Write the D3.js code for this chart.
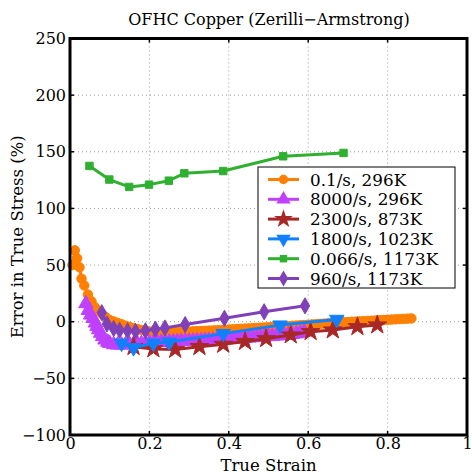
<!DOCTYPE html>
<html>
<head>
<meta charset="utf-8">
<script src="https://cdn.jsdelivr.net/npm/d3@7"></script>
<style>
  body { margin: 0; background: #fff; }
  text { font-family: "DejaVu Serif", "Liberation Serif", serif; fill: #000; }
  .grid line { stroke: #9a9a9a; stroke-dasharray: 1,3; stroke-width: 1; }
</style>
</head>
<body>
<div id="chart"></div>
<script>
// Tick values
const xTicks = [0, 0.2, 0.4, 0.6, 0.8, 1];
const yTicks = [-100, -50, 0, 50, 100, 150, 200, 250];

const labels = ['0.1/s, 296K', '8000/s, 296K', '2300/s, 873K', '1800/s, 1023K', '0.066/s, 1173K', '960/s, 1173K'];

// 0.1/s, 296K  (dense samples)
const s1x = [0.006, 0.012, 0.018, 0.024, 0.029, 0.036, 0.045, 0.054, 0.062, 0.070, 0.080, 0.090,
  0.10, 0.11, 0.12, 0.13, 0.14, 0.15, 0.16, 0.17, 0.18, 0.19, 0.20, 0.21, 0.22, 0.23, 0.24, 0.25, 0.26, 0.27, 0.28, 0.29,
  0.30, 0.31, 0.32, 0.33, 0.34, 0.35, 0.36, 0.37, 0.38, 0.39, 0.40, 0.41, 0.42, 0.43, 0.44, 0.45, 0.46, 0.47, 0.48, 0.49,
  0.50, 0.51, 0.52, 0.53, 0.54, 0.55, 0.56, 0.57, 0.58, 0.59, 0.60, 0.61, 0.62, 0.63, 0.64, 0.65, 0.66, 0.67, 0.68, 0.69,
  0.70, 0.71, 0.72, 0.73, 0.74, 0.75, 0.76, 0.77, 0.78, 0.79, 0.80, 0.81, 0.82, 0.83, 0.84, 0.85, 0.86];
const s1y = [50, 63, 56, 48, 38, 32, 24, 18, 13, 10, 7, 4,
  1.5, 0.2, -1, -2.3, -3.5, -4.6, -5.6, -6.5, -7.3, -8, -8.6, -9, -9.3, -9.4, -9.4, -9.3, -9.2, -9.1, -9, -8.8,
  -8.7, -8.5, -8.4, -8.2, -8.1, -7.9, -7.7, -7.5, -7.3, -7.1, -6.9, -6.7, -6.5, -6.3, -6.1, -5.9, -5.7, -5.5, -5.3, -5.1,
  -4.9, -4.7, -4.5, -4.3, -4.1, -3.9, -3.6, -3.4, -3.1, -2.9, -2.7, -2.4, -2.2, -1.9, -1.7, -1.4, -1.2, -0.9, -0.7, -0.5,
  -0.3, -0.1, 0.1, 0.3, 0.5, 0.7, 0.9, 1.1, 1.3, 1.5, 1.7, 1.9, 2.1, 2.3, 2.5, 2.7, 2.9];

// 8000/s, 296K  (dense samples)
const s2x = [0.040, 0.046, 0.052, 0.058, 0.064, 0.068, 0.072, 0.077, 0.082, 0.088, 0.095,
  0.10, 0.11, 0.12, 0.13, 0.14, 0.15, 0.16, 0.17, 0.18, 0.19, 0.20, 0.21, 0.22, 0.23, 0.24, 0.25, 0.26, 0.27, 0.28, 0.29,
  0.30, 0.31, 0.32, 0.33, 0.34, 0.35, 0.36, 0.37, 0.38, 0.39, 0.40, 0.41, 0.42, 0.43, 0.44, 0.45, 0.46, 0.47, 0.48, 0.49,
  0.50, 0.51, 0.52, 0.53, 0.54, 0.55, 0.56, 0.57, 0.58, 0.59];
const s2y = [16, 10, 6, 3, -1, -4, -7, -10, -13, -16, -18,
  -19, -20.2, -20.5, -20.5, -20.3, -20, -19.8, -19.5, -19.2, -19, -18.7, -18.5, -18.2, -18, -17.9, -17.8, -17.6, -17.5, -17.3, -17.2,
  -17.1, -17, -16.8, -16.7, -16.5, -16.4, -16.2, -16, -15.8, -15.6, -15.4, -15.2, -15, -14.8, -14.5, -14.3, -14, -13.8, -13.5, -13.3,
  -13, -12.8, -12.5, -12.2, -11.8, -11.5, -11.1, -10.6, -10, -9];

// 2300/s, 873K
const s3x = [0.16, 0.21, 0.265, 0.326, 0.386, 0.441, 0.494, 0.556, 0.606, 0.662, 0.724, 0.774];
const s3y = [-22, -24, -24.5, -22, -20, -17.5, -15, -11.7, -8.8, -7.3, -4.4, -2.9];

// 1800/s, 1023K
const s4x = [0.13, 0.16, 0.21, 0.25, 0.386, 0.529, 0.672];
const s4y = [-19, -23, -19, -18, -10.5, -3, 2];

// 0.066/s, 1173K
const s5x = [0.049, 0.099, 0.149, 0.199, 0.249, 0.288, 0.386, 0.537, 0.689];
const s5y = [137.5, 125.5, 119, 121, 124.5, 131, 133, 146, 149];

// 960/s, 1173K
const s6x = [0.08, 0.093, 0.11, 0.125, 0.145, 0.165, 0.19, 0.215, 0.239, 0.29, 0.389, 0.489, 0.592];
const s6y = [8, -2, -6, -7.5, -8, -8.5, -8, -6.5, -5.5, -2.5, 3, 8.8, 14];

const colors = ['#ff8000', '#c040ff', '#a82828', '#1080ff', '#30b030', '#8040b8'];

const W = 472, H = 475;
const margin = { top: 38.5, right: 5, bottom: 40, left: 70 };
const iw = W - margin.left - margin.right;
const ih = H - margin.top - margin.bottom;

const svg = d3.select('#chart').append('svg')
  .attr('width', W).attr('height', H);

const g = svg.append('g').attr('transform', `translate(${margin.left},${margin.top})`);

const x = d3.scaleLinear().domain([0, 1]).range([0, iw]);
const y = d3.scaleLinear().domain([-100, 250]).range([ih, 0]);

// grid
const grid = g.append('g').attr('class', 'grid');
grid.selectAll('.gx').data(xTicks.slice(1, -1)).join('line')
  .attr('x1', d => x(d)).attr('x2', d => x(d)).attr('y1', 0).attr('y2', ih);
grid.selectAll('.gy').data(yTicks.slice(1, -1)).join('line')
  .attr('class', 'gy')
  .attr('x1', 0).attr('x2', iw).attr('y1', d => y(d)).attr('y2', d => y(d));

// inward ticks on all four sides
const ticks = g.append('g').attr('stroke', '#000').attr('stroke-width', 1.5);
xTicks.forEach(t => {
  ticks.append('line').attr('x1', x(t)).attr('x2', x(t)).attr('y1', ih).attr('y2', ih - 4);
  ticks.append('line').attr('x1', x(t)).attr('x2', x(t)).attr('y1', 0).attr('y2', 4);
});
yTicks.forEach(t => {
  ticks.append('line').attr('x1', 0).attr('x2', 4).attr('y1', y(t)).attr('y2', y(t));
  ticks.append('line').attr('x1', iw).attr('x2', iw - 4).attr('y1', y(t)).attr('y2', y(t));
});

// tick labels
const xAxis = g.append('g').attr('transform', `translate(0,${ih})`)
  .call(d3.axisBottom(x).tickValues(xTicks).tickSize(0).tickPadding(5).tickFormat(d3.format('~g')));
const yAxis = g.append('g')
  .call(d3.axisLeft(y).tickValues(yTicks).tickSize(0).tickPadding(4).tickFormat(d => d < 0 ? '\u2212' + Math.abs(d) : d));
[xAxis, yAxis].forEach(a => {
  a.select('.domain').remove();
  a.selectAll('text').style('font-family', '"DejaVu Serif", serif').style('font-size', '16px').attr('fill', '#000');
});
xAxis.selectAll('text').attr('dy', '0.55em');

// clip
svg.append('defs').append('clipPath').attr('id', 'clip')
  .append('rect').attr('x', -6).attr('y', -6).attr('width', iw + 12).attr('height', ih + 12);

const symbols = [
  { type: d3.symbolCircle, size: 70, rot: 0 },
  { type: d3.symbolTriangle, size: 90, rot: 0 },
  { type: d3.symbolStar, size: 110, rot: 0 },
  { type: d3.symbolTriangle, size: 90, rot: 180 },
  { type: d3.symbolSquare, size: 55, rot: 0 },
  { type: d3.symbolDiamond, size: 75, rot: 0 }
];

const series = [[s1x, s1y], [s2x, s2y], [s3x, s3y], [s4x, s4y], [s5x, s5y], [s6x, s6y]];

const plot = g.append('g').attr('clip-path', 'url(#clip)');
const line = d3.line().x(d => x(d[0])).y(d => y(d[1]));

series.forEach(([xs, ys], i) => {
  const pts = xs.map((v, j) => [v, ys[j]]);
  const sg = plot.append('g');
  sg.append('path').attr('d', line(pts))
    .attr('fill', 'none').attr('stroke', colors[i])
    .attr('stroke-width', 3).attr('stroke-linejoin', 'round').attr('stroke-linecap', 'round');
  const sym = d3.symbol().type(symbols[i].type).size(symbols[i].size);
  sg.selectAll('path.m').data(pts).join('path')
    .attr('class', 'm')
    .attr('d', sym)
    .attr('transform', d => `translate(${x(d[0])},${y(d[1])}) rotate(${symbols[i].rot})`)
    .attr('fill', colors[i]).attr('stroke', colors[i]).attr('stroke-width', 1);
});

// frame
g.append('rect').attr('width', iw).attr('height', ih)
  .attr('fill', 'none').attr('stroke', '#000').attr('stroke-width', 3);

// legend
const lg = svg.append('g').attr('transform', 'translate(258,167)');
lg.append('rect').attr('width', 197).attr('height', 121)
  .attr('fill', '#fff').attr('stroke', '#000').attr('stroke-width', 1);
labels.forEach((lab, i) => {
  const ly = 12.5 + i * 19.8;
  lg.append('line').attr('x1', 10).attr('x2', 41).attr('y1', ly).attr('y2', ly)
    .attr('stroke', colors[i]).attr('stroke-width', 3);
  lg.append('path')
    .attr('d', d3.symbol().type(symbols[i].type).size(symbols[i].size)())
    .attr('transform', `translate(25.5,${ly}) rotate(${symbols[i].rot})`)
    .attr('fill', colors[i]);
  lg.append('text').attr('x', 52).attr('y', ly).attr('dy', '0.36em')
    .style('font-size', '16.8px').text(lab);
});

// titles
svg.append('text').attr('x', 269).attr('y', 25).attr('text-anchor', 'middle')
  .style('font-size', '16px').text('OFHC Copper (Zerilli\u2212Armstrong)');
svg.append('text').attr('x', margin.left + iw / 2).attr('y', 471).attr('text-anchor', 'middle')
  .style('font-size', '16.5px').text('True Strain');
svg.append('text').attr('transform', `translate(23,${margin.top + ih / 2}) rotate(-90)`)
  .attr('text-anchor', 'middle').style('font-size', '16.5px').text('Error in True Stress (%)');
</script>
</body>
</html>
